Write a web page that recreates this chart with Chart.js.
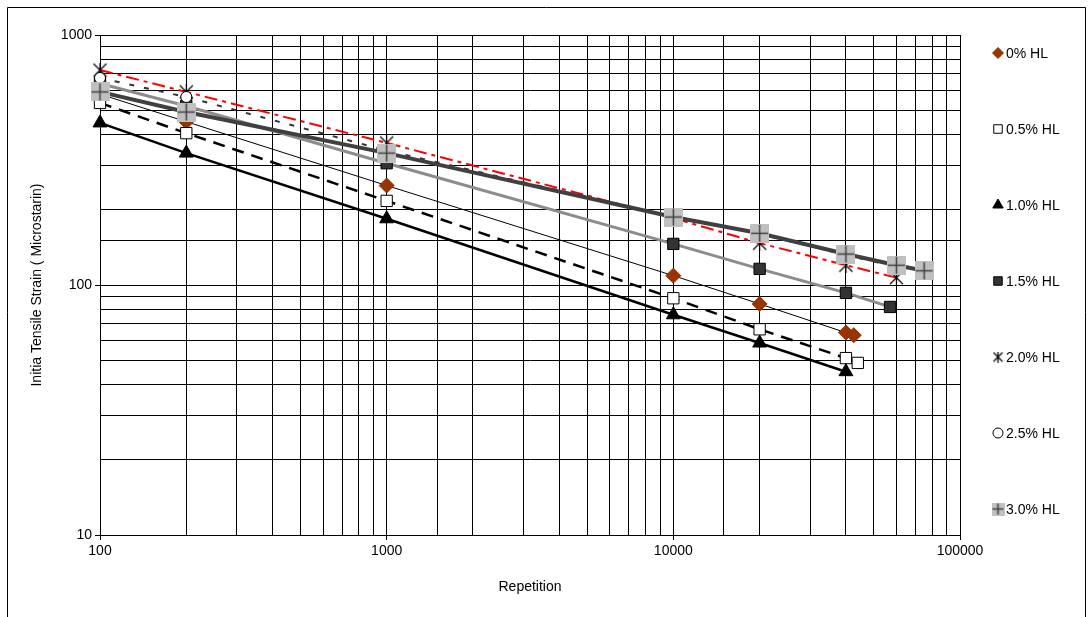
<!DOCTYPE html>
<html lang="en">
<head>
<meta charset="UTF-8" />
<title>Initial Tensile Strain vs Repetition</title>
<style>
  html, body { margin: 0; padding: 0; background: #fff; }
  #wrap { width: 1092px; height: 617px; }
</style>
</head>
<body>
<div id="wrap"><canvas id="fatigueChart" width="1092" height="617"></canvas></div>
<script src="https://cdn.jsdelivr.net/npm/chart.js"></script>
<script>
  // values
  const seriesNames = ['0% HL', '0.5% HL', '1.0% HL', '1.5% HL', '2.0% HL', '2.5% HL', '3.0% HL'];

  const hl0X  = [100, 200, 1000, 10000, 20000, 40000, 42600];
  const hl0Y  = [580, 450, 250, 109, 84, 64.5, 63];

  const hl05X = [100, 200, 1000, 10000, 20000, 40000, 44000];
  const hl05Y = [535, 405, 217, 88.5, 66.5, 51, 48.8];

  const hl10X = [100, 200, 1000, 10000, 20000, 40000];
  const hl10Y = [445, 337, 184, 76, 58.6, 45];

  const hl15X = [100, 200, 1000, 10000, 20000, 40000, 57000];
  const hl15Y = [640, 520, 307, 146, 116, 93, 81.7];

  const hl20X = [100, 200, 1000, 10000, 20000, 40000, 60000];
  const hl20Y = [724, 592, 370, 185, 147, 120, 107];

  const hl25X = [100, 200, 1000, 10000, 20000, 40000, 60000];
  const hl25Y = [673, 565, 345, 187, 160, 132, 118];

  const hl30X = [100, 200, 1000, 10000, 20000, 40000, 60000, 75000];
  const hl30Y = [592, 492, 337, 187, 161, 133, 120, 114];

  const xTitle = 'Repetition';
  const yTitle = 'Initia Tensile Strain ( Microstarin)';

  function pairs(xs, ys) {
    return xs.map((x, i) => ({ x: x, y: ys[i] }));
  }

  function isDecade(v) {
    const e = Math.round(Math.log10(v));
    return Math.abs(v - Math.pow(10, e)) < 1e-6;
  }

  // excel style markers that chart.js does not have
  function plusBox(size) {
    const c = document.createElement('canvas');
    c.width = c.height = size;
    const g = c.getContext('2d');
    g.fillStyle = '#c0c0c0';
    g.fillRect(0, 0, size, size);
    g.strokeStyle = '#404040';
    g.lineWidth = 1.5;
    const m = size / 2;
    g.beginPath();
    g.moveTo(m, 1); g.lineTo(m, size - 1);
    g.moveTo(1, m); g.lineTo(size - 1, m);
    g.stroke();
    return c;
  }

  function asterisk(size) {
    const c = document.createElement('canvas');
    c.width = c.height = size;
    const g = c.getContext('2d');
    g.strokeStyle = '#000';
    g.lineWidth = 1.2;
    const m = size / 2;
    g.beginPath();
    g.moveTo(1, 1); g.lineTo(size - 1, size - 1);
    g.moveTo(size - 1, 1); g.lineTo(1, size - 1);
    g.moveTo(m, 0); g.lineTo(m, size);
    g.stroke();
    return c;
  }

  const datasets = [
    {
      label: seriesNames[0], data: pairs(hl0X, hl0Y), order: 7,
      borderColor: '#000', borderWidth: 1,
      pointStyle: 'rectRot', pointRadius: 7.5,
      pointBackgroundColor: '#993300', pointBorderColor: '#993300', pointBorderWidth: 1,
      legendRadius: 5.5
    },
    {
      label: seriesNames[1], data: pairs(hl05X, hl05Y), order: 6,
      borderColor: '#000', borderWidth: 2.5, borderDash: [12, 8],
      pointStyle: 'rect', pointRadius: 8,
      pointBackgroundColor: '#fff', pointBorderColor: '#000', pointBorderWidth: 1,
      legendRadius: 6
    },
    {
      label: seriesNames[2], data: pairs(hl10X, hl10Y), order: 5,
      borderColor: '#000', borderWidth: 2.5,
      pointStyle: 'triangle', pointRadius: 8,
      pointBackgroundColor: '#000', pointBorderColor: '#000', pointBorderWidth: 1,
      legendRadius: 6
    },
    {
      label: seriesNames[3], data: pairs(hl15X, hl15Y), order: 4,
      borderColor: '#8c8c8c', borderWidth: 3,
      pointStyle: 'rect', pointRadius: 8,
      pointBackgroundColor: '#333', pointBorderColor: '#000', pointBorderWidth: 1,
      legendRadius: 6
    },
    {
      label: seriesNames[4], data: pairs(hl20X, hl20Y), order: 3,
      borderColor: '#ff0000', borderWidth: 2, borderDash: [13, 5, 4, 5],
      pointStyle: asterisk(15),
      legendStyle: asterisk(11)
    },
    {
      label: seriesNames[5], data: pairs(hl25X, hl25Y), order: 2,
      borderColor: '#333', borderWidth: 2, borderDash: [5, 10],
      pointStyle: 'circle', pointRadius: 5.5,
      pointBackgroundColor: '#fff', pointBorderColor: '#000', pointBorderWidth: 1,
      legendRadius: 5
    },
    {
      label: seriesNames[6], data: pairs(hl30X, hl30Y), order: 1,
      borderColor: '#404040', borderWidth: 4,
      pointStyle: plusBox(19),
      legendStyle: plusBox(13)
    }
  ];
  datasets.forEach(d => { d.showLine = true; d.clip = false; d.tension = 0; });

  const frame = {
    id: 'frame',
    beforeDraw(chart) {
      const c = chart.ctx;
      c.save();
      c.fillStyle = '#fff';
      c.fillRect(0, 0, chart.width, chart.height);
      c.strokeStyle = '#000';
      c.lineWidth = 1;
      c.beginPath();
      c.moveTo(7.5, chart.height);
      c.lineTo(7.5, 7.5);
      c.lineTo(1085.5, 7.5);
      c.lineTo(1085.5, chart.height);
      c.stroke();
      c.restore();
    }
  };

  // legend spread down the right side like the spreadsheet one
  const sideLegend = {
    id: 'sideLegend',
    afterDraw(chart) {
      const c = chart.ctx;
      const top = 53, step = 76;
      c.save();
      c.font = '14px "Liberation Sans", Arial, sans-serif';
      c.textBaseline = 'middle';
      c.textAlign = 'left';
      chart.data.datasets.forEach((d, i) => {
        const y = top + i * step;
        const mx = 998;
        c.fillStyle = d.pointBackgroundColor || '#000';
        c.strokeStyle = d.pointBorderColor || '#000';
        c.lineWidth = 1;
        Chart.helpers.drawPoint(c, {
          pointStyle: d.legendStyle || d.pointStyle,
          radius: d.legendRadius || 5,
          borderWidth: 1,
          rotation: 0
        }, mx, y);
        c.fillStyle = '#000';
        c.fillText(d.label, 1006, y + 1);
      });
      c.restore();
    }
  };

  const tickFont = { family: '"Liberation Sans", Arial, sans-serif', size: 14 };

  new Chart(document.getElementById('fatigueChart'), {
    type: 'scatter',
    data: { datasets: datasets },
    options: {
      responsive: false,
      animation: false,
      layout: { padding: { left: 0, top: 35, right: 132, bottom: 0 } },
      plugins: {
        legend: { display: false },
        tooltip: { enabled: false }
      },
      scales: {
        x: {
          type: 'logarithmic',
          min: 100, max: 100000,
          afterFit(scale) { scale.height = 82; },
          grid: {
            color: '#000', lineWidth: 1, tickLength: 5,
            tickColor: ctx => isDecade(ctx.tick.value) ? '#000' : 'rgba(0,0,0,0)'
          },
          border: { color: '#000', width: 1 },
          ticks: {
            autoSkip: false, maxRotation: 0, padding: 3,
            color: '#000', font: tickFont,
            callback: v => isDecade(v) ? String(v) : ''
          },
          title: {
            display: true, text: xTitle, color: '#000', font: tickFont,
            padding: { top: 0, bottom: 21 }
          }
        },
        y: {
          type: 'logarithmic',
          min: 10, max: 1000,
          afterFit(scale) { scale.width = 100; },
          grid: {
            color: '#000', lineWidth: 1, tickLength: 5,
            tickColor: ctx => isDecade(ctx.tick.value) ? '#000' : 'rgba(0,0,0,0)'
          },
          border: { color: '#000', width: 1 },
          ticks: {
            autoSkip: false, padding: 3,
            color: '#000', font: tickFont,
            callback: v => isDecade(v) ? String(v) : ''
          },
          title: {
            display: true, text: yTitle, color: '#000', font: tickFont,
            padding: { top: 29, bottom: 0 }
          }
        }
      }
    },
    plugins: [frame, sideLegend]
  });
</script>
</body>
</html>
